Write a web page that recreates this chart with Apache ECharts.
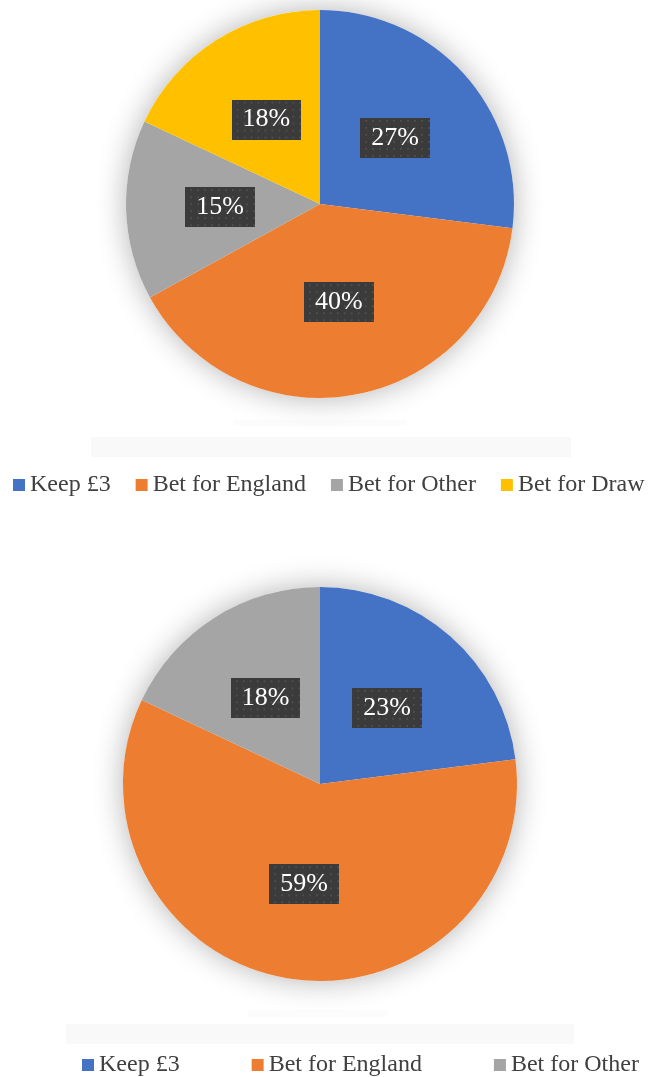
<!DOCTYPE html>
<html>
<head>
<meta charset="utf-8">
<title>Betting choices</title>
<script src="https://cdn.jsdelivr.net/npm/echarts@6/dist/echarts.min.js"></script>
<style>
  html, body { margin: 0; padding: 0; background: #fff; }
  #chart { width: 648px; height: 1077px; }
</style>
</head>
<body>
<div id="chart"></div>
<script>
// data
const topNames = ['Keep £3', 'Bet for England', 'Bet for Other', 'Bet for Draw'];
const topValues = [27, 40, 15, 18];
const bottomNames = ['Keep £3', 'Bet for England', 'Bet for Other'];
const bottomValues = [23, 59, 18];

const colorMap = {
  'Keep £3': '#4472C4',
  'Bet for England': '#ED7D31',
  'Bet for Other': '#A5A5A5',
  'Bet for Draw': '#FFC000'
};

// dotted dark texture for the label boxes
function makeTexture() {
  const c = document.createElement('canvas');
  c.width = 70;
  c.height = 40;
  const ctx = c.getContext('2d');
  ctx.fillStyle = '#3b3b3b';
  ctx.fillRect(0, 0, 70, 40);
  ctx.fillStyle = '#545252';
  for (let y = 3; y < 40; y += 7) {
    for (let x = 3; x < 70; x += 7) {
      ctx.beginPath();
      ctx.arc(x + ((y / 7) % 2 ? 3 : 0), y, 1.1, 0, Math.PI * 2);
      ctx.fill();
    }
  }
  return c;
}
const texture = makeTexture();

const font = "'Liberation Serif', 'DejaVu Serif', serif";

function toData(names, values) {
  return names.map((n, i) => ({
    name: n,
    value: values[i],
    itemStyle: { color: colorMap[n] }
  }));
}

const labelStyle = {
  show: true,
  position: 'inside',
  formatter: '{c}%',
  color: '#fff',
  fontFamily: font,
  fontSize: 26,
  lineHeight: 26,
  padding: [7, 11],
  backgroundColor: { image: texture },
  shadowColor: 'rgba(0,0,0,0.55)',
  shadowBlur: 6,
  shadowOffsetX: 3,
  shadowOffsetY: 3
};

// soft shadow disc drawn behind a pie
function shadowPie(center, radius) {
  return {
    type: 'pie',
    center: center,
    radius: radius,
    silent: true,
    animation: false,
    label: { show: false },
    labelLine: { show: false },
    itemStyle: {
      color: '#fff',
      shadowBlur: 30,
      shadowColor: 'rgba(0,0,0,0.3)'
    },
    data: [{ name: 'shadow', value: 1 }]
  };
}

function mainPie(center, radius, names, values) {
  return {
    type: 'pie',
    center: center,
    radius: radius,
    startAngle: 90,
    clockwise: true,
    animation: false,
    emphasis: { scale: false },
    label: labelStyle,
    labelLine: { show: false },
    data: toData(names, values)
  };
}

const legendText = { fontFamily: font, fontSize: 24, color: '#404040' };

const chart = echarts.init(document.getElementById('chart'));
chart.setOption({
  backgroundColor: '#fff',
  legend: [
    {
      data: topNames,
      left: 13,
      top: 473,
      width: 640,
      padding: 0,
      icon: 'rect',
      itemWidth: 12,
      itemHeight: 12,
      itemGap: 25,
      textStyle: legendText
    },
    {
      data: bottomNames,
      left: 82,
      top: 1053,
      width: 600,
      padding: 0,
      icon: 'rect',
      itemWidth: 12,
      itemHeight: 12,
      itemGap: 72,
      textStyle: legendText
    }
  ],
  // faint reflection bands under each pie
  graphic: [
    { type: 'rect', shape: { x: 233, y: 420, width: 174, height: 6 }, style: { fill: '#fcfcfc' }, silent: true },
    { type: 'rect', shape: { x: 91, y: 437, width: 480, height: 20 }, style: { fill: '#f9f9f9' }, silent: true },
    { type: 'rect', shape: { x: 248, y: 1010, width: 140, height: 7 }, style: { fill: '#fcfcfc' }, silent: true },
    { type: 'rect', shape: { x: 66, y: 1024, width: 508, height: 20 }, style: { fill: '#f9f9f9' }, silent: true }
  ],
  series: [
    shadowPie([320, 204], 194),
    mainPie([320, 204], 194, topNames, topValues),
    shadowPie([320, 784], 197),
    mainPie([320, 784], 197, bottomNames, bottomValues)
  ]
});
</script>
</body>
</html>
